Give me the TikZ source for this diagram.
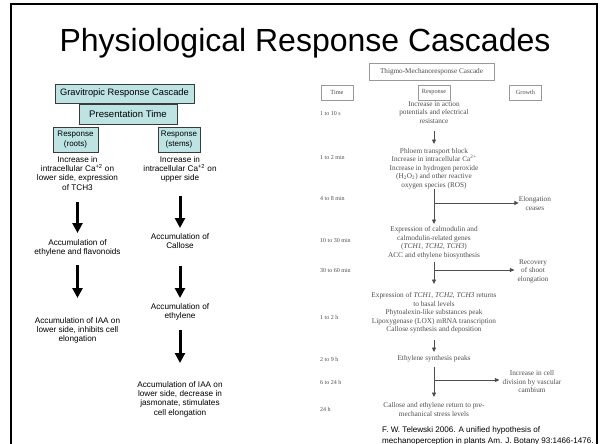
\documentclass[tikz,border=0pt]{standalone}
\usepackage{fontspec}
\setmainfont{Liberation Sans}
\newfontfamily\figfont{Liberation Serif}
\usetikzlibrary{arrows.meta}
\definecolor{boxcyan}{HTML}{BDE3E3}
\definecolor{boxedge}{HTML}{3A3A3A}
\definecolor{figgray}{HTML}{4D4D4D}

\begin{document}
\begin{tikzpicture}[x=1pt, y=-1pt,
  cyanbox/.style={draw=boxedge, fill=boxcyan, line width=0.8pt, inner sep=0pt, align=center},
  gravtext/.style={inner sep=0pt, anchor=north, align=center, font=\fontsize{8.2}{9.3}\selectfont},
  bigarrow/.style={-{Triangle[width=10pt,length=10pt]}, line width=3pt},
  figbox/.style={draw=gray!80, line width=0.7pt, fill=white, inner sep=0pt, text=figgray},
  figtext/.style={inner sep=0pt, anchor=north, align=center, text=figgray, font=\figfont\fontsize{7.3}{8.5}\selectfont},
  timelbl/.style={inner sep=0pt, anchor=west, text=figgray, font=\figfont\fontsize{6}{7}\selectfont},
  figarrow/.style={-{Triangle[width=4pt,length=4.5pt]}, line width=0.9pt, draw=figgray}]
  \useasboundingbox (0,0) rectangle (605,444);
  \draw[line width=2.5pt] (11,446) -- (11,4) -- (597,4) -- (597,446);
  \node[anchor=base, font=\fontsize{32}{36}\selectfont] (title) at (305,52) {Physiological Response Cascades};

  % gravitropic cascade
  \node[cyanbox, minimum width=139pt, minimum height=19pt, font=\fontsize{9.3}{11}\selectfont] (gravbox) at (124.5,93.5) {Gravitropic Response Cascade};
  \node[cyanbox, minimum width=98pt, minimum height=20pt, font=\fontsize{9.6}{11}\selectfont] (presbox) at (128,114) {Presentation Time};
  \node[cyanbox, minimum width=45pt, minimum height=25pt, font=\fontsize{8}{9.5}\selectfont] (rootsbox) at (75.5,139.5) {Response\\(roots)};
  \node[cyanbox, minimum width=42pt, minimum height=25pt, font=\fontsize{8}{9.5}\selectfont] (stemsbox) at (179,139.5) {Response\\(stems)};

  \node[gravtext] (rootsinc) at (77.5,156) {Increase in\\intracellular Ca\textsuperscript{+2} on\\lower side, expression\\of TCH3};
  \node[gravtext] (rootsacc1) at (77.5,239) {Accumulation of\\ethylene and flavonoids};
  \node[gravtext] (rootsacc2) at (77.5,317) {Accumulation of IAA on\\lower side, inhibits cell\\elongation};
  \node[gravtext] (stemsinc) at (180,156) {Increase in\\intracellular Ca\textsuperscript{+2} on\\upper side};
  \node[gravtext] (stemsacc1) at (180,233) {Accumulation of\\Callose};
  \node[gravtext] (stemsacc2) at (180,303) {Accumulation of\\ethylene};
  \node[gravtext] (stemsacc3) at (180,381) {Accumulation of IAA on\\lower side, decrease in\\jasmonate, stimulates\\cell elongation};

  \draw[bigarrow, shorten <=12pt, shorten >=6pt] (rootsinc) -- (rootsacc1);
  \draw[bigarrow, shorten <=9pt, shorten >=19pt] (rootsacc1) -- (rootsacc2);
  \draw[bigarrow, shorten <=13pt, shorten >=5pt] (stemsinc) -- (stemsacc1);
  \draw[bigarrow, shorten <=17pt, shorten >=5pt] (stemsacc1) -- (stemsacc2);
  \draw[bigarrow, shorten <=10pt, shorten >=18pt] (stemsacc2) -- (stemsacc3);

  % thigmo-mechanoresponse cascade
  \node[figbox, minimum width=125pt, minimum height=17pt, font=\figfont\fontsize{7.2}{8}\selectfont] (thigmobox) at (431.5,71.5) {Thigmo-Mechanoresponse Cascade};
  \node[figbox, minimum width=32pt, minimum height=15pt, font=\figfont\fontsize{6.3}{7}\selectfont] (timebox) at (337,92.5) {Time};
  \node[figbox, minimum width=32pt, minimum height=15pt, font=\figfont\fontsize{6.3}{7}\selectfont] (respbox) at (434,92.5) {Response};
  \node[figbox, minimum width=32pt, minimum height=15pt, font=\figfont\fontsize{6.3}{7}\selectfont] (growthbox) at (525.5,92.5) {Growth};

  \foreach \y/\t [count=\i] in {114/1 to 10 s, 158/1 to 2 min, 198.5/4 to 8 min, 241/10 to 30 min, 271/30 to 60 min, 317/1 to 2 h, 359/2 to 9 h, 382/6 to 24 h, 409/24 h}
    \node[timelbl] (time\i) at (320,\y) {\t};

  \node[figtext] (resp1) at (434,101) {Increase in action\\potentials and electrical\\resistance};
  \node[figtext] (resp2) at (434,148) {Phloem transport block\\Increase in intracellular Ca\textsuperscript{2+}\\Increase in hydrogen peroxide\\(H\textsubscript{2}O\textsubscript{2}) and other reactive\\oxygen species (ROS)};
  \node[figtext] (resp3) at (434,226.6) {Expression of calmodulin and\\calmodulin-related genes\\(\textit{TCH1, TCH2, TCH3})\\ACC and ethylene biosynthesis};
  \node[figtext] (resp4) at (434,292.6) {Expression of \textit{TCH1, TCH2, TCH3} returns\\to basal levels\\Phytoalexin-like substances peak\\Lipoxygenase (LOX) mRNA transcription\\Callose synthesis and deposition};
  \node[figtext] (resp5) at (434,355.6) {Ethylene synthesis peaks};
  \node[figtext] (resp6) at (434,402.6) {Callose and ethylene return to pre-\\mechanical stress levels};

  \node[figtext, anchor=center] (grow1) at (535,203.5) {Elongation\\ceases};
  \node[figtext, anchor=center] (grow2) at (533,271) {Recovery\\of shoot\\elongation};
  \node[figtext, anchor=center] (grow3) at (532,381.5) {Increase in cell\\division by vascular\\cambium};

  \draw[figarrow, shorten <=8pt, shorten >=4pt] (resp1) -- (resp2);
  \draw[figarrow, shorten >=2.6pt] (resp2) -- (resp3);
  \draw[figarrow, shorten <=3pt, shorten >=8.6pt] (resp3) -- (resp4);
  \draw[figarrow, shorten <=6pt, shorten >=3.6pt] (resp4) -- (resp5);
  \draw[figarrow, shorten <=4pt, shorten >=5.6pt] (resp5) -- (resp6);
  \coordinate (branch1) at (434,203);
  \coordinate (branch2) at (434,270);
  \coordinate (branch3) at (434,380);
  \draw[figarrow] (branch1) -- (branch1 -| grow1.west);
  \draw[figarrow, shorten >=3pt] (branch2) -- (branch2 -| grow2.west);
  \draw[figarrow, shorten >=3pt] (branch3) -- (branch3 -| grow3.west);

  \node[anchor=north west, inner sep=0pt, align=left, font=\fontsize{8.1}{10.8}\selectfont] (cite) at (382,426.5) {F. W. Telewski 2006. A unified hypothesis of\\mechanoperception in plants Am. J. Botany 93:1466-1476.};
\end{tikzpicture}
\end{document}
